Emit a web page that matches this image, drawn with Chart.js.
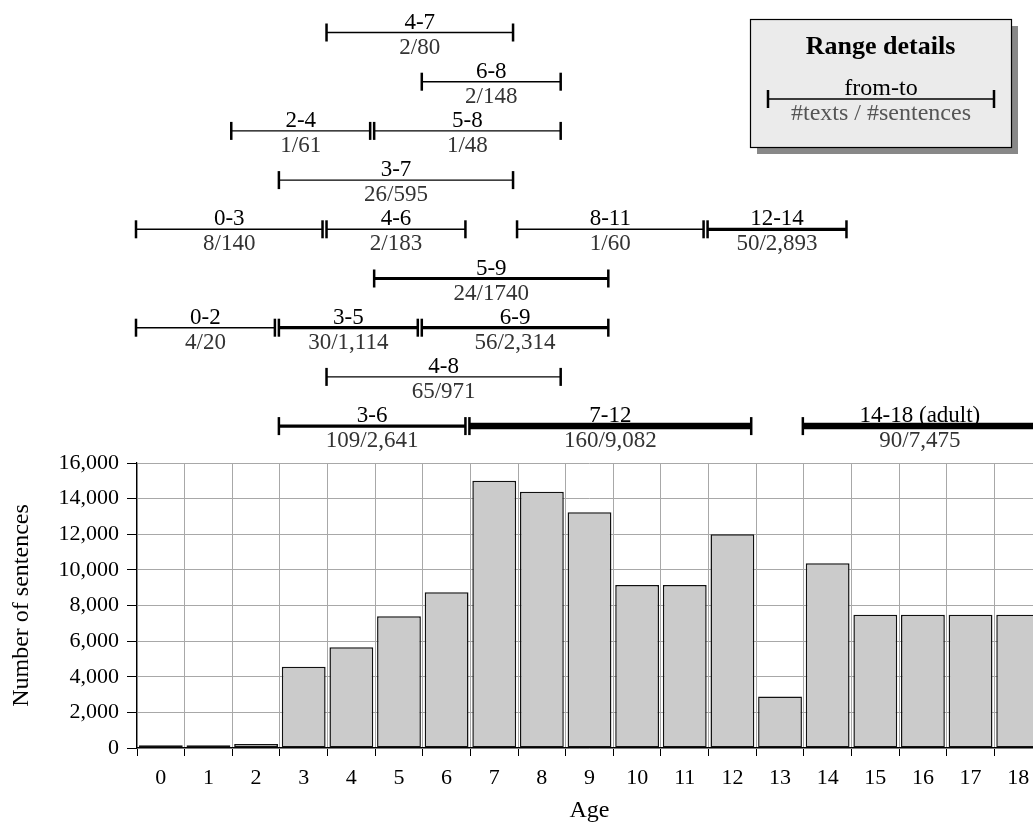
<!DOCTYPE html>
<html><head><meta charset="utf-8">
<script src="https://cdn.jsdelivr.net/npm/chart.js@4"></script>
<style>
html,body{margin:0;padding:0;overflow:hidden;background:#fff;width:1033px;height:825px}
#wrap{position:absolute;left:0;top:0;width:1042px;height:825px}
</style></head>
<body><div id="wrap"><canvas id="c" width="1042" height="825"></canvas></div>
<script>
// ---- data ----
const ages = ['0','1','2','3','4','5','6','7','8','9','10','11','12','13','14','15','16','17','18'];
const sentences = [150,150,220,4560,5650,7400,8740,15000,14390,13230,9150,9150,12000,2890,10370,7475,7475,7475,7475];
const yMin = 0, yMax = 16000, yStep = 2000;

const rangeNames = ['4-7','6-8','2-4','5-8','3-7','0-3','4-6','8-11','12-14','5-9','0-2','3-5','6-9','4-8','3-6','7-12','14-18 (adult)'];
const rangeFrom  = [4,6,2,5,3,0,4,8,12,5,0,3,6,4,3,7,14];
const rangeTo    = [7,8,4,8,7,3,6,11,14,9,2,5,9,8,6,12,18];
const rangeTexts = [2,2,1,1,26,8,2,1,50,24,4,30,56,65,109,160,90];
const rangeSentences = ['80','148','61','48','595','140','183','60','2,893','1740','20','1,114','2,314','971','2,641','9,082','7,475'];
// layout: which stacked row each range sits on (0 = top)
const rangeRow   = [0,1,2,2,3,4,4,4,4,5,6,6,6,7,8,8,8];

// ---- styling ----
const FAM = '"Liberation Serif","Times New Roman",serif';
const font = {family: FAM, size: 22};
const titleFont = {family: FAM, size: 24};

function lineWidthFor(s){
  const n = parseInt(s.replace(/,/g,''),10);
  if (n >= 5000) return 6.5;
  if (n >= 1000) return 3.2;
  return 1.4;
}
function drawRange(ctx, x1, x2, y, lw, top, bottom, bottomColor, size){
  ctx.fillStyle = '#000';
  ctx.strokeStyle = '#000';
  ctx.lineWidth = lw;
  ctx.lineCap = 'butt';
  ctx.beginPath(); ctx.moveTo(x1, y); ctx.lineTo(x2, y); ctx.stroke();
  ctx.fillRect(x1 - 1.25, y - 9, 2.5, 18);
  ctx.fillRect(x2 - 1.25, y - 9, 2.5, 18);
  const mid = (x1 + x2) / 2;
  ctx.font = size + 'px ' + FAM;
  ctx.textAlign = 'center';
  ctx.textBaseline = 'alphabetic';
  ctx.fillText(top, mid, y - 4);
  ctx.fillStyle = bottomColor;
  ctx.fillText(bottom, mid, y + 21);
}

const rangesPlugin = {
  id: 'ranges',
  afterDraw(chart){
    const ctx = chart.ctx, xs = chart.scales.x;
    // left boundary of age category a (category scale accepts fractional indices)
    const edge = a => xs.getPixelForValue(a - 0.5);
    ctx.save();
    for (let i = 0; i < rangeNames.length; i++){
      const y = 32.5 + rangeRow[i] * 49.2;
      const x1 = edge(rangeFrom[i]) - 1;
      const x2 = edge(rangeTo[i] + 1) - 5;
      drawRange(ctx, x1, x2, y, lineWidthFor(rangeSentences[i]), rangeNames[i],
        rangeTexts[i] + '/' + rangeSentences[i], '#333', 23);
    }
    // legend box
    ctx.fillStyle = '#888';
    ctx.fillRect(757, 26, 261, 128);
    ctx.fillStyle = '#ebebeb';
    ctx.fillRect(750, 19, 261, 128);
    ctx.strokeStyle = '#000'; ctx.lineWidth = 1.2;
    ctx.strokeRect(750.5, 19.5, 261, 128);
    ctx.fillStyle = '#000';
    ctx.font = 'bold 26px ' + FAM;
    ctx.textAlign = 'center'; ctx.textBaseline = 'middle';
    ctx.fillText('Range details', 880.5, 47);
    drawRange(ctx, 768, 994, 99, 1.4, 'from-to', '#texts / #sentences', '#555', 24);
    ctx.restore();
  }
};

new Chart(document.getElementById('c'), {
  type: 'bar',
  data: {
    labels: ages,
    datasets: [{
      data: sentences,
      backgroundColor: '#cbcbcb',
      borderColor: '#111',
      borderWidth: 1.5,
      borderSkipped: false,
      categoryPercentage: 1,
      barPercentage: 0.92
    }]
  },
  options: {
    responsive: false,
    animation: false,
    layout: {padding: {top: 463, left: 0, right: 0, bottom: 0}},
    plugins: {legend: {display: false}, tooltip: {enabled: false}},
    scales: {
      x: {
        grid: {offset: true, color: '#a8a8a8', tickColor: '#000', tickLength: 8, lineWidth: 1},
        border: {color: '#000', width: 1.2},
        ticks: {font: font, color: '#000', padding: 9},
        title: {display: true, text: 'Age', font: titleFont, color: '#000', padding: {top: 0, bottom: 0}},
        afterFit(s){ s.height = 77; }
      },
      y: {
        min: yMin, max: yMax,
        ticks: {stepSize: yStep, font: font, color: '#000', padding: 8,
          callback: v => v.toLocaleString('en-US')},
        grid: {color: '#a8a8a8', tickColor: '#000', tickLength: 10},
        border: {color: '#000', width: 1.2},
        title: {display: true, text: 'Number of sentences', font: titleFont, color: '#000', padding: {top: 7, bottom: 0}},
        afterFit(s){ s.width = 137; }
      }
    }
  },
  plugins: [rangesPlugin]
});
</script>
</body></html>
